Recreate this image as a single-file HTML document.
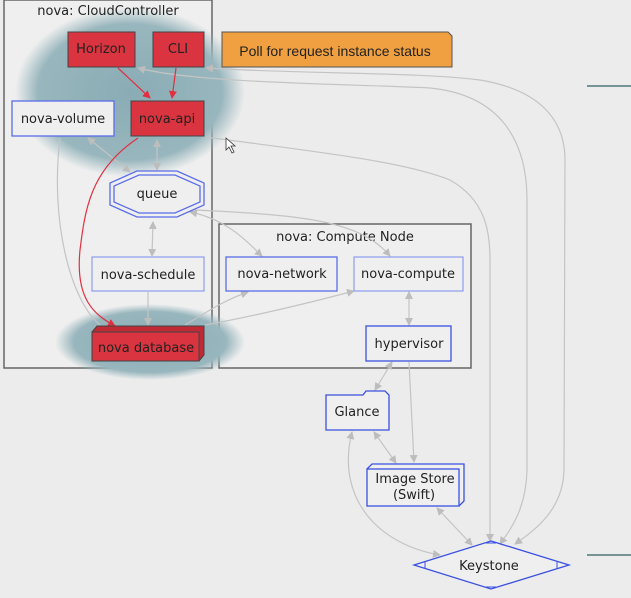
<!DOCTYPE html>
<html><head><meta charset="utf-8"><style>
html,body{margin:0;padding:0;background:#ececec;}
svg{display:block;font-family:"DejaVu Sans","Liberation Sans",sans-serif;}
</style></head><body>
<svg width="631" height="598" viewBox="0 0 631 598" xmlns="http://www.w3.org/2000/svg">
<defs>
<radialGradient id="b1" cx="0.5" cy="0.5" r="0.5">
<stop offset="0" stop-color="#8aacb5"/><stop offset="0.8" stop-color="#98b6bd"/><stop offset="1" stop-color="#9bb8bf" stop-opacity="0"/>
</radialGradient>
<marker id="ag" markerWidth="8" markerHeight="8" refX="7" refY="4" orient="auto-start-reverse" markerUnits="userSpaceOnUse"><path d="M0,0 L8,4 L0,8z" fill="#bdbdbd"/></marker>
<marker id="ar" markerWidth="8" markerHeight="8" refX="7" refY="4" orient="auto" markerUnits="userSpaceOnUse"><path d="M0,0 L8,4 L0,8z" fill="#e03040"/></marker>
</defs>
<rect width="631" height="598" fill="#ececec"/>
<rect x="4" y="0" width="208" height="368" fill="#efefef" stroke="#666" stroke-width="1.5"/>
<rect x="219" y="224" width="252" height="144" fill="#efefef" stroke="#666" stroke-width="1.5"/>
<ellipse cx="130" cy="92" rx="115" ry="85" fill="url(#b1)"/>
<ellipse cx="150" cy="342" rx="95" ry="38" fill="url(#b1)"/>
<text x="108" y="15" font-size="13" text-anchor="middle" fill="#222">nova: CloudController</text>
<text x="345" y="241" font-size="13" text-anchor="middle" fill="#222">nova: Compute Node</text>
<line x1="587" y1="86" x2="631" y2="86" stroke="#2e6060" stroke-width="1.2"/>
<line x1="587" y1="555" x2="631" y2="555" stroke="#2e6060" stroke-width="1.2"/>
<g fill="none" stroke="#c4c4c4" stroke-width="1.2">
<path d="M206 68 C300 74 420 72 480 80 C540 90 565 120 565 160 L564 470 C563 510 535 530 515 544" marker-end="url(#ag)" marker-start="url(#ag)"/>
<path d="M138 68 C200 84 360 84 430 88 C500 95 527 140 527 200 L527 470 C526 510 510 530 500 544" marker-end="url(#ag)" marker-start="url(#ag)"/>
<path d="M206 137 C300 150 400 160 450 180 C485 200 490 230 490 260 L490 541" marker-end="url(#ag)"/>
<path d="M157 140 L157 170" marker-end="url(#ag)" marker-start="url(#ag)"/>
<path d="M88 138 L130 172" marker-end="url(#ag)" marker-start="url(#ag)"/>
<path d="M153 222 L152 256" marker-end="url(#ag)" marker-start="url(#ag)"/>
<path d="M190 212 C230 220 250 245 262 256" marker-end="url(#ag)" marker-start="url(#ag)"/>
<path d="M195 210 C300 215 360 220 390 256" marker-end="url(#ag)"/>
<path d="M148 292 L148 325" marker-end="url(#ag)"/>
<path d="M185 325 C210 310 225 300 248 292" marker-end="url(#ag)"/>
<path d="M205 325 C260 315 320 300 354 291" marker-end="url(#ag)"/>
<path d="M60 138 C50 220 70 300 100 325"/>
<path d="M409 292 L409 325" marker-end="url(#ag)" marker-start="url(#ag)"/>
<path d="M392 362 L375 390" marker-end="url(#ag)" marker-start="url(#ag)"/>
<path d="M409 362 L414 462" marker-end="url(#ag)"/>
<path d="M374 432 L396 463" marker-end="url(#ag)" marker-start="url(#ag)"/>
<path d="M352 432 C335 500 380 545 440 555" marker-end="url(#ag)" marker-start="url(#ag)"/>
<path d="M437 508 L472 545" marker-end="url(#ag)" marker-start="url(#ag)"/>
</g>
<g fill="none" stroke="#e03040" stroke-width="1.2">
<path d="M118 68 L150 98" marker-end="url(#ar)"/>
<path d="M176 68 L172 98" marker-end="url(#ar)"/>
<path d="M138 138 C90 170 85 210 80 250 C75 300 95 315 115 326" marker-end="url(#ar)"/>
</g>
<g font-size="13" text-anchor="middle" fill="#222">
<rect x="68" y="32" width="67" height="35" fill="#d9343f" stroke="#444"/><text x="101" y="53">Horizon</text>
<rect x="153" y="32" width="51" height="35" fill="#d9343f" stroke="#444"/><text x="178" y="53">CLI</text>
<path d="M222 32 H448 L452 36 V67 H222Z" fill="#f0a040" stroke="#555"/><text x="335" y="56" font-family="Liberation Sans,sans-serif" font-size="14">Poll for request instance status</text>
<rect x="12" y="101" width="102" height="35" fill="#efefef" stroke="#5a6ce8" stroke-width="1.3"/><text x="63" y="123">nova-volume</text>
<rect x="131" y="101" width="73" height="35" fill="#d9343f" stroke="#444"/><text x="167" y="123">nova-api</text>
<polygon points="137,171 177,171 204,183 204,205 177,217 137,217 110,205 110,183" fill="#efefef" stroke="#5a6ce8" stroke-width="1.3"/>
<polygon points="139,175 175,175 200,186 200,202 175,213 139,213 114,202 114,186" fill="none" stroke="#5a6ce8" stroke-width="1.3"/>
<text x="157" y="198">queue</text>
<rect x="92" y="257" width="112" height="34" fill="#efefef" stroke="#8c9cf0" stroke-width="1.2"/><text x="148" y="279">nova-schedule</text>
<path d="M92 332 L97 326 H204 L204 355 L199 361" fill="#c02a35" stroke="#444"/>
<rect x="92" y="332" width="107" height="29" fill="#d9343f" stroke="#444"/><text x="146" y="352">nova database</text>
<rect x="226" y="257" width="111" height="34" fill="#efefef" stroke="#5a6ce8" stroke-width="1.3"/><text x="282" y="278">nova-network</text>
<rect x="354" y="257" width="109" height="34" fill="#efefef" stroke="#8c9cf0" stroke-width="1.2"/><text x="408" y="278">nova-compute</text>
<rect x="366" y="326" width="85" height="35" fill="#efefef" stroke="#3a50e0" stroke-width="1.3"/><text x="409" y="348">hypervisor</text>
<path d="M326 395 H363 L366 391 H385 L389 395 V430 H326Z" fill="#efefef" stroke="#3a50e0" stroke-width="1.3"/><text x="357" y="416">Glance</text>
<path d="M367 469 L372 464 H464 V501 L459 506" fill="#efefef" stroke="#3a50e0" stroke-width="1.3"/>
<rect x="367" y="469" width="92" height="37" fill="#efefef" stroke="#3a50e0" stroke-width="1.3"/>
<text x="415" y="483">Image Store</text><text x="414" y="499">(Swift)</text>
<polygon points="491,541 569,565 491,589 414,565" fill="#efefef" stroke="#3a50e0" stroke-width="1.3"/>
<path d="M425 562 L425 568 M557 562 L557 568 M486 543 L496 543 M486 587 L496 587" stroke="#3a50e0"/>
<text x="489" y="570">Keystone</text>
</g>
<path d="M226 138 L226 150 L229 147 L232 153 L234 152 L231 146 L235 146Z" fill="#fff" stroke="#333" stroke-width="0.8"/>
</svg>
</body></html>
